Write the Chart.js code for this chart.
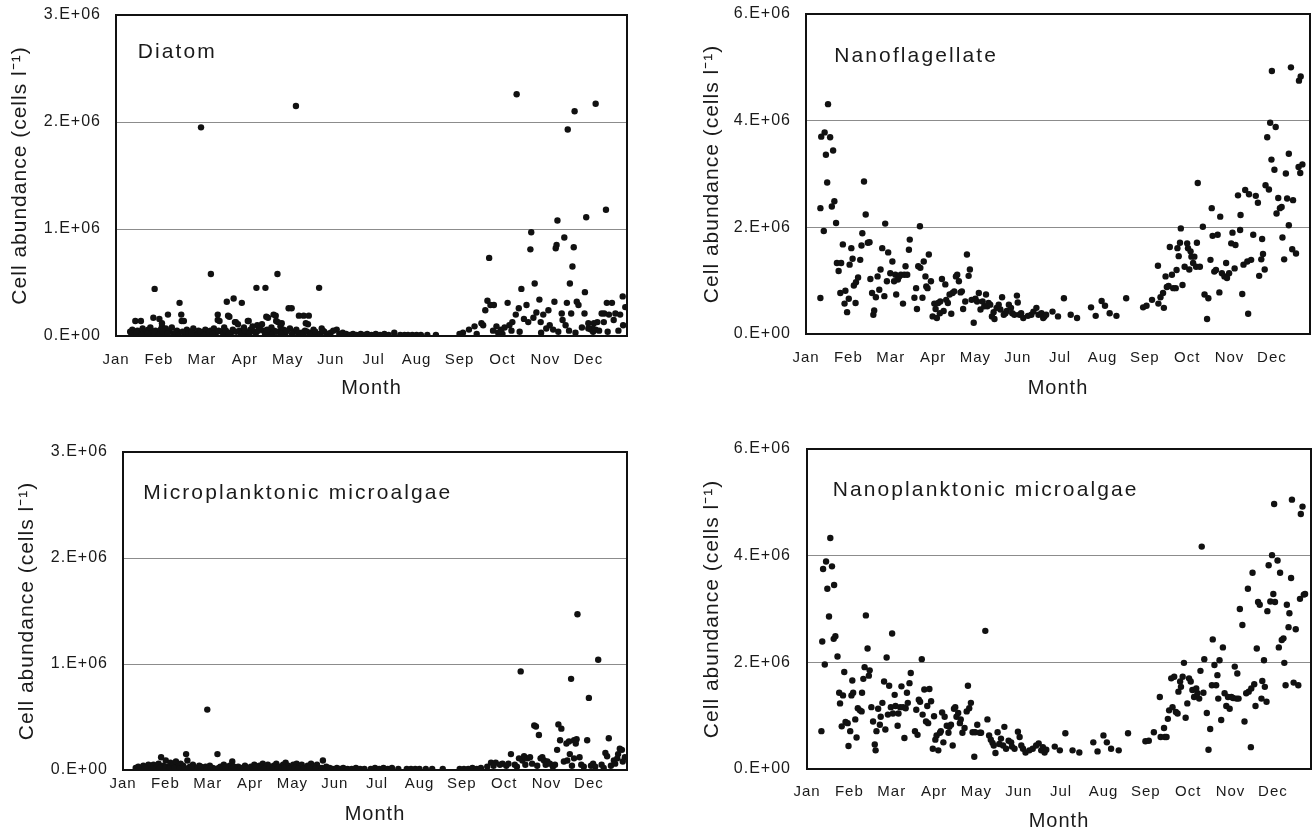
<!DOCTYPE html>
<html>
<head>
<meta charset="utf-8">
<script src="https://cdn.jsdelivr.net/npm/chart.js@4.4.1/dist/chart.umd.min.js"></script>
<style>
  html, body { margin: 0; padding: 0; background: #fff; }
  body { width: 1315px; height: 835px; position: relative; overflow: hidden; }
  canvas { position: absolute; }
</style>
</head>
<body>
<canvas id="p1" width="640" height="420" style="left:0px;top:0px"></canvas>
<canvas id="p2" width="625" height="420" style="left:690px;top:0px"></canvas>
<canvas id="p3" width="640" height="405" style="left:0px;top:430px"></canvas>
<canvas id="p4" width="625" height="405" style="left:690px;top:430px"></canvas>
<script>
// ---------- DATA ----------
const monthLabels = ['Jan','Feb','Mar','Apr','May','Jun','Jul','Aug','Sep','Oct','Nov','Dec'];
const yLabels3 = ['0.E+00','1.E+06','2.E+06','3.E+06'];
const yLabels6 = ['0.E+00','2.E+06','4.E+06','6.E+06'];
const panelTitles = ['Diatom','Nanoflagellate','Microplanktonic microalgae','Nanoplanktonic microalgae'];
const yAxisTitle = 'Cell abundance (cells l\u207B\u00B9)';
const xAxisTitle = 'Month';

// points: [month position (0 = start of Jan), cell abundance in 10^6 cells/l]
const diatomPoints = [
 [1.98,1.95],[4.19,2.15],[0.9,0.44],[2.21,0.58],[3.76,0.58],[4.73,0.45],[3.27,0.45],[3.48,0.45],
 [2.74,0.35],[2.58,0.32],[2.93,0.31],[1.48,0.31],[1.52,0.2],[1.53,0.14],[1.21,0.2],[0.87,0.17],
 [1.01,0.16],[0.45,0.14],[0.58,0.14],[2.37,0.2],[2.61,0.19],[2.37,0.15],[3.07,0.14],[2.77,0.13],
 [3.5,0.18],[3.67,0.2],[3.73,0.14],[4.02,0.26],[4.09,0.26],[4.26,0.19],[4.37,0.19],[4.49,0.19],
 [4.42,0.12],[3.29,0.1],[3.83,0.09],[1.07,0.09],[1.07,0.12],[1.58,0.14],[2.41,0.14],[2.64,0.18],
 [2.79,0.13],[2.84,0.11],[3.09,0.14],[3.54,0.17],[3.72,0.19],[3.77,0.13],[3.86,0.12],[4.47,0.11],
 [4.79,0.07],[5.14,0.06],
 [0.33,0.04],[0.38,0.06],[0.42,0.03],[0.5,0.05],[0.55,0.02],[0.62,0.07],[0.66,0.04],[0.7,0.03],
 [0.75,0.06],[0.8,0.08],[0.84,0.03],[0.92,0.05],[0.97,0.02],[1.04,0.06],[1.12,0.03],[1.16,0.07],
 [1.25,0.04],[1.3,0.08],[1.35,0.02],[1.42,0.05],[1.6,0.03],[1.65,0.06],[1.72,0.04],[1.8,0.07],
 [1.86,0.02],[1.92,0.05],[2.02,0.03],[2.08,0.06],[2.14,0.02],[2.2,0.05],[2.28,0.07],[2.33,0.03],
 [2.46,0.04],[2.52,0.08],[2.68,0.03],[2.72,0.06],[2.88,0.05],[2.98,0.08],[3.03,0.03],[3.13,0.06],
 [3.18,0.09],[3.22,0.04],[3.35,0.07],[3.4,0.11],[3.44,0.05],[3.58,0.03],[3.62,0.08],[3.68,0.05],
 [3.8,0.04],[3.9,0.06],[3.95,0.03],[4.05,0.07],[4.14,0.04],[4.2,0.06],[4.32,0.03],[4.4,0.05],
 [4.55,0.03],[4.6,0.06],[4.68,0.02],[4.85,0.04],[4.92,0.02],[5.0,0.03],[5.06,0.05],[5.2,0.02],
 [0.36,0.02],[0.47,0.03],[0.6,0.01],[0.73,0.02],[0.89,0.04],[1.0,0.01],[1.09,0.04],[1.2,0.02],
 [1.39,0.03],[1.46,0.01],[1.55,0.04],[1.69,0.02],[1.76,0.03],[1.9,0.01],[1.97,0.04],[2.05,0.01],
 [2.17,0.03],[2.25,0.02],[2.39,0.05],[2.5,0.02],[2.56,0.05],[2.63,0.02],[2.8,0.04],[2.91,0.02],
 [3.0,0.05],[3.1,0.02],[3.26,0.03],[3.31,0.05],[3.47,0.02],[3.52,0.06],[3.65,0.02],[3.74,0.04],
 [3.85,0.02],[3.98,0.05],[4.1,0.02],[4.24,0.03],[4.36,0.02],[4.45,0.04],[4.52,0.01],[4.64,0.04],
 [4.75,0.02],[4.82,0.05],
 [5.28,0.03],[5.36,0.02],[5.45,0.01],[5.52,0.02],[5.6,0.01],[5.7,0.02],[5.78,0.01],[5.85,0.02],
 [5.95,0.01],[6.05,0.02],[6.15,0.01],[6.25,0.02],[6.35,0.01],[6.48,0.03],[6.62,0.01],[6.72,0.01],
 [6.8,0.01],[6.9,0.01],[7.0,0.01],[7.1,0.01],[7.25,0.01],[7.45,0.01],
 [9.33,2.26],[11.17,2.17],[10.68,2.1],[10.52,1.93],[11.41,1.18],[10.95,1.11],[10.28,1.08],[9.67,0.97],
 [10.44,0.92],[10.26,0.85],[10.24,0.82],[9.65,0.81],[10.66,0.83],[10.63,0.65],[8.69,0.73],[10.57,0.49],
 [9.75,0.49],[9.44,0.44],[10.92,0.41],[8.65,0.33],[8.6,0.24],[8.72,0.29],[8.8,0.29],[9.12,0.31],
 [9.38,0.26],[9.56,0.29],[9.86,0.34],[10.07,0.24],[10.21,0.32],[10.5,0.31],[10.73,0.32],[10.77,0.29],
 [11.43,0.31],[9.31,0.2],[9.79,0.22],[9.95,0.2],[10.38,0.21],[10.6,0.21],[10.91,0.21],[11.31,0.21],
 [11.37,0.21],[11.48,0.2],[10.4,0.15],[10.47,0.1],[9.5,0.16],[9.6,0.13],[9.72,0.17],[9.89,0.13],
 [10.1,0.1],[10.02,0.07],[10.18,0.06],[11.0,0.12],[11.21,0.13],[10.85,0.08],[11.06,0.06],[11.11,0.04],
 [9.23,0.13],[9.16,0.1],[9.05,0.08],[8.97,0.06],[8.86,0.09],[8.78,0.05],[8.55,0.1],[8.51,0.12],
 [8.35,0.09],[8.22,0.06],[8.08,0.03],[8.0,0.02],[9.4,0.04],[9.21,0.05],
 [11.8,0.37],[11.86,0.27],[11.55,0.31],[11.74,0.2],[11.63,0.21],[11.59,0.15],[11.81,0.1],[11.36,0.13],
 [11.13,0.12],[11.17,0.06],[11.1,0.07],[11.0,0.07],[9.9,0.03],[10.3,0.04],[10.55,0.05],[10.7,0.03],
 [11.25,0.05],[11.45,0.04],[11.7,0.05],[9.0,0.02],[8.4,0.02],[8.9,0.03]
];

const nanoflagellatePoints = [
 [0.34,0.675],[0.34,2.36],[0.36,3.7],[0.42,1.93],[0.44,3.78],[0.47,3.36],[0.5,2.84],[0.52,4.31],
 [0.57,3.69],[0.61,2.39],[0.64,3.44],[0.67,2.49],[0.71,2.08],[0.73,1.33],[0.77,1.18],[0.83,1.33],
 [0.81,0.77],[0.87,1.68],[0.91,0.57],[0.93,0.81],[0.97,0.41],[1.01,0.66],[1.03,1.3],[1.07,1.61],
 [1.1,1.41],[1.13,0.91],[1.17,0.58],[1.18,0.97],[1.23,1.06],[1.28,1.39],[1.31,1.66],[1.33,1.89],
 [1.37,2.86],[1.41,2.24],[1.46,1.71],[1.5,1.72],[1.52,1.03],[1.56,0.77],[1.59,0.36],[1.61,0.44],
 [1.65,0.69],[1.69,1.08],[1.73,0.83],[1.76,1.21],[1.8,1.61],[1.85,0.71],[1.87,2.07],[1.91,0.99],
 [1.94,1.53],[1.99,1.14],[2.04,1.36],[2.08,0.99],[2.11,1.11],[2.13,0.74],[2.17,1.02],[2.2,1.08],
 [2.24,1.11],[2.29,0.57],[2.32,1.11],[2.35,1.27],[2.39,1.11],[2.43,1.58],[2.45,1.77],[2.56,0.68],
 [2.6,0.86],[2.62,0.47],[2.65,1.27],[2.69,2.02],[2.7,1.24],[2.75,0.68],[2.78,1.36],[2.82,1.08],
 [2.84,0.89],[2.87,0.86],[2.9,1.49],[2.95,0.99],[2.99,0.33],[3.03,0.57],[3.06,0.47],[3.09,0.3],
 [3.12,0.58],[3.16,0.39],[3.17,0.61],[3.21,1.03],[3.25,0.43],[3.29,0.93],[3.31,0.64],[3.35,0.58],
 [3.39,0.74],[3.43,0.38],[3.46,0.77],[3.5,0.8],[3.54,1.08],[3.57,1.11],[3.61,0.99],[3.65,0.78],
 [3.68,0.8],[3.71,0.47],[3.76,0.61],[3.8,1.49],[3.84,1.09],[3.87,1.21],[3.91,0.64],[3.96,0.21],
 [4.0,0.66],[4.04,0.61],[4.08,0.77],[4.12,0.46],[4.17,0.61],[4.21,0.52],[4.25,0.74],[4.28,0.52],
 [4.31,0.58],[4.35,0.55],[4.39,0.33],[4.43,0.41],[4.45,0.28],[4.5,0.49],[4.55,0.55],[4.59,0.46],
 [4.63,0.69],[4.67,0.36],[4.71,0.39],[4.74,0.43],
 [4.79,0.55],[4.84,0.49],[4.87,0.39],[4.92,0.36],[4.98,0.72],[5.0,0.59],[5.04,0.36],[5.08,0.39],
 [5.13,0.3],[5.24,0.34],[5.32,0.36],[5.37,0.42],[5.44,0.49],[5.49,0.36],[5.56,0.39],[5.6,0.3],
 [5.63,0.33],[5.67,0.36],[5.82,0.42],[5.95,0.33],[6.09,0.67],[6.25,0.36],[6.4,0.3],[6.73,0.5],
 [6.84,0.34],[6.98,0.62],[7.06,0.53],[7.17,0.39],[7.33,0.34],[7.56,0.67],[7.96,0.5],[8.04,0.53],
 [8.17,0.64],[8.32,0.57],[8.37,0.69],[8.43,0.77],[8.45,0.49],[8.31,1.28],[8.49,1.08],[8.52,0.88],
 [8.56,0.9],[8.59,1.63],[8.64,1.11],[8.67,0.86],[8.73,0.86],[8.75,1.2],[8.77,1.61],[8.8,1.46],
 [8.83,1.71],[8.85,1.98],[8.89,0.92],[8.94,1.26],[9.0,1.7],[9.02,1.61],[9.05,1.21],[9.08,1.55],
 [9.1,1.45],[9.14,1.33],[9.17,1.45],[9.21,1.26],[9.25,2.83],[9.3,1.26],[9.23,1.71],[9.37,2.01],
 [9.41,0.74],[9.47,0.28],[9.5,0.67],[9.55,1.39],[9.58,2.36],[9.6,1.84],[9.64,1.17],[9.72,1.86],
 [9.68,1.2],[9.76,0.78],[9.78,2.2],[9.82,1.14],[9.88,1.08],[9.92,1.33],[9.94,1.05],[9.99,1.14],
 [10.04,1.7],[10.07,1.9],[10.12,1.23],[10.14,1.67],[10.2,2.6],[10.25,1.95],[10.26,2.23],[10.3,0.75],
 [10.33,1.3],[10.37,2.7],[10.44,0.38],[10.42,1.36],[10.46,2.62],[10.51,1.39],[10.56,1.86],[10.62,2.59],
 [10.67,2.46],[10.7,1.09],[10.75,1.4],[10.77,1.78],[10.79,1.5],[10.83,1.21],[10.85,2.79],[10.89,3.69],
 [10.93,2.71],[10.96,3.96],[10.99,3.27],[11.0,4.93],[11.06,3.08],[11.09,3.88],[11.11,2.26],[11.15,2.55],
 [11.19,2.36],[11.23,2.38],[11.25,1.81],[11.29,1.4],[11.33,3.01],[11.36,2.54],[11.4,2.04],[11.4,3.38],
 [11.45,5.0],[11.48,1.59],[11.5,2.51],[11.57,1.51],[11.63,3.13],[11.64,4.75],[11.67,3.02],[11.68,4.83],
 [11.72,3.18]
];

const microPoints = [
 [1.99,0.57],[0.9,0.12],[1.01,0.09],[1.49,0.15],[1.52,0.09],[2.23,0.15],[2.58,0.08],[4.72,0.09],
 [0.3,0.02],[0.36,0.03],[0.42,0.01],[0.48,0.04],[0.55,0.02],[0.6,0.05],[0.66,0.03],[0.72,0.05],
 [0.78,0.02],[0.84,0.06],[0.95,0.04],[1.06,0.03],[1.12,0.07],[1.18,0.05],[1.25,0.08],[1.3,0.03],
 [1.36,0.06],[1.42,0.04],[1.58,0.03],[1.65,0.05],[1.72,0.02],[1.8,0.04],[1.88,0.02],[1.95,0.03],
 [2.05,0.04],[2.12,0.02],[2.3,0.03],[2.38,0.05],[2.45,0.02],[2.52,0.04],[2.65,0.02],[2.72,0.03],
 [2.8,0.02],[2.88,0.04],[2.95,0.02],[3.02,0.03],[3.1,0.05],[3.16,0.02],[3.22,0.04],[3.3,0.06],
 [3.36,0.03],[3.42,0.05],[3.5,0.02],[3.56,0.04],[3.62,0.06],[3.7,0.03],[3.78,0.05],[3.84,0.07],
 [3.9,0.04],[3.96,0.02],[4.02,0.05],[4.1,0.06],[4.16,0.03],[4.22,0.05],[4.3,0.02],[4.36,0.04],
 [4.44,0.06],[4.5,0.03],[4.58,0.05],[4.64,0.02],[4.8,0.03],[4.88,0.02],[4.95,0.01],[5.05,0.02],
 [0.39,0.01],[0.52,0.02],[0.69,0.01],[0.87,0.02],[1.0,0.02],[1.09,0.01],[1.21,0.02],[1.33,0.01],
 [1.45,0.02],[1.54,0.01],[1.62,0.02],[1.76,0.01],[1.84,0.03],[1.98,0.01],[2.08,0.02],[2.18,0.01],
 [2.26,0.02],[2.34,0.01],[2.42,0.03],[2.56,0.01],[2.62,0.03],[2.76,0.01],[2.84,0.02],[2.92,0.01],
 [3.06,0.01],[3.13,0.03],[3.26,0.02],[3.33,0.01],[3.46,0.02],[3.53,0.01],[3.66,0.02],[3.74,0.01],
 [3.81,0.02],[3.93,0.01],[4.06,0.02],[4.13,0.01],[4.26,0.01],[4.4,0.02],[4.54,0.01],[4.7,0.02],
 [5.12,0.01],[5.2,0.02],[5.3,0.01],[5.4,0.01],[5.5,0.02],[5.6,0.01],[5.7,0.01],[5.85,0.01],
 [5.95,0.02],[6.05,0.01],[6.15,0.02],[6.25,0.01],[6.35,0.02],[6.5,0.01],[6.7,0.01],[6.8,0.01],
 [6.9,0.01],[7.0,0.01],[7.15,0.01],[7.3,0.01],[7.55,0.01],[7.95,0.01],[8.05,0.01],[8.15,0.01],
 [8.25,0.02],[8.35,0.01],[8.45,0.02],
 [10.73,1.47],[11.22,1.04],[9.39,0.93],[10.58,0.86],[11.0,0.68],[9.71,0.42],[9.75,0.41],[9.82,0.33],
 [10.28,0.43],[10.35,0.39],[10.32,0.28],[10.47,0.25],[10.53,0.27],[10.65,0.28],[10.71,0.29],[10.69,0.25],
 [10.96,0.28],[11.47,0.3],[10.25,0.19],[10.55,0.15],[10.78,0.12],[9.16,0.15],[11.39,0.16],[11.43,0.13],
 [11.69,0.15],[11.78,0.19],[11.73,0.2],[11.67,0.11],[11.59,0.09],[10.41,0.08],[10.49,0.09],[10.65,0.11],
 [9.35,0.11],[9.43,0.09],[9.47,0.13],[9.55,0.11],[9.61,0.12],[9.86,0.11],[9.9,0.12],[9.94,0.09],
 [10.02,0.08],[8.69,0.07],[8.8,0.07],[8.96,0.06],[8.6,0.03],[8.75,0.04],[8.9,0.05],[9.05,0.04],
 [9.1,0.06],[9.25,0.05],[9.3,0.03],[9.5,0.05],[9.66,0.06],[9.78,0.04],[9.98,0.05],[10.08,0.06],
 [10.15,0.03],[10.2,0.05],[10.6,0.04],[10.82,0.05],[10.88,0.03],[11.05,0.04],[11.1,0.06],[11.15,0.03],
 [11.3,0.05],[11.35,0.02],[11.52,0.04],[11.62,0.06],[11.8,0.08],[11.85,0.12]
];

const nanoPoints = [
 [0.34,0.71],[0.36,2.39],[0.38,3.75],[0.42,1.96],[0.45,3.89],[0.48,3.38],[0.52,2.86],[0.55,4.33],
 [0.59,3.8],[0.63,2.44],[0.64,3.45],[0.67,2.49],[0.72,2.11],[0.76,1.43],[0.78,1.23],[0.82,0.8],
 [0.85,1.38],[0.88,1.82],[0.91,0.88],[0.96,0.86],[0.98,0.43],[1.02,0.71],[1.05,1.38],[1.07,1.66],
 [1.09,1.43],[1.14,0.93],[1.17,0.59],[1.2,1.14],[1.25,1.1],[1.29,1.08],[1.3,1.43],[1.33,1.69],
 [1.36,1.91],[1.39,2.88],[1.43,2.26],[1.46,1.75],[1.48,1.85],[1.52,1.16],[1.56,0.89],[1.6,0.46],
 [1.62,0.35],[1.64,0.71],[1.68,1.13],[1.72,0.83],[1.74,0.98],[1.78,1.24],[1.82,1.64],[1.85,0.74],
 [1.88,2.09],[1.91,1.02],[1.94,1.56],[1.98,1.16],[2.01,2.54],[2.03,1.04],[2.07,1.39],[2.09,1.18],
 [2.14,0.81],[2.16,1.04],[2.2,1.16],[2.23,1.55],[2.27,1.16],[2.3,0.58],[2.33,1.14],[2.36,1.43],
 [2.38,1.24],[2.42,1.61],[2.45,1.8],[2.55,0.71],[2.58,1.11],[2.61,0.64],[2.64,1.3],[2.67,1.26],
 [2.71,2.06],[2.73,1.02],[2.77,1.49],[2.81,0.89],[2.84,1.18],[2.86,0.86],[2.89,1.5],[2.93,1.27],
 [2.97,0.38],[3.0,0.99],[3.03,0.55],[3.06,0.63],[3.1,0.35],[3.14,0.68],[3.16,0.71],[3.19,1.06],
 [3.22,0.5],[3.25,0.98],[3.3,0.81],[3.34,0.68],[3.36,0.79],[3.4,0.83],[3.44,0.44],[3.47,1.13],
 [3.5,1.16],[3.53,0.98],[3.57,1.05],[3.61,0.86],[3.63,0.93],[3.67,0.68],[3.72,0.77],[3.77,1.08],
 [3.8,1.56],[3.83,1.14],[3.87,1.24],[3.91,0.69],[3.95,0.23],[3.97,0.69],[4.02,0.83],[4.08,0.68],
 [4.11,0.68],[4.21,2.59],[4.26,0.93],[4.3,0.63],[4.34,0.55],[4.38,0.49],[4.41,0.44],[4.45,0.3],
 [4.5,0.69],[4.54,0.47],[4.58,0.57],[4.66,0.79],[4.63,0.44],[4.7,0.38],[4.76,0.53],[4.82,0.5],
 [4.84,0.42],[4.9,0.38],[4.98,0.7],[5.02,0.6],[5.06,0.44],[5.1,0.38],[5.16,0.31],[5.25,0.35],
 [5.33,0.38],[5.41,0.44],[5.47,0.48],[5.53,0.35],[5.57,0.41],[5.61,0.31],[5.65,0.36],[5.85,0.42],
 [5.97,0.35],[6.1,0.67],[6.27,0.35],[6.43,0.31],[6.76,0.5],[6.86,0.33],[7.0,0.63],[7.08,0.5],
 [7.18,0.38],[7.36,0.35],[7.58,0.67],[7.99,0.52],[8.07,0.53],[8.19,0.69],[8.33,1.35],[8.35,0.6],
 [8.43,0.77],[8.45,0.6],[8.49,0.6],[8.52,0.94],[8.55,1.1],[8.6,1.7],[8.63,1.16],[8.67,1.73],
 [8.71,1.07],[8.75,1.04],[8.77,1.45],[8.81,1.64],[8.83,1.54],[8.87,1.73],[8.9,1.99],[8.94,0.96],
 [8.98,1.23],[9.02,1.7],[9.06,1.64],[9.1,1.48],[9.14,1.35],[9.19,1.51],[9.22,1.42],[9.26,1.32],
 [9.29,1.84],[9.32,4.17],[9.36,1.43],[9.38,2.06],[9.44,1.05],[9.48,0.36],[9.52,0.75],[9.56,1.57],
 [9.58,2.43],[9.62,1.95],[9.66,1.57],[9.69,1.76],[9.71,1.32],[9.74,2.04],[9.78,0.92],[9.82,2.28],
 [9.86,1.42],[9.9,1.18],[9.94,1.35],[9.98,1.13],[10.02,1.35],[10.06,1.33],[10.1,1.92],[10.14,1.32],
 [10.16,1.79],[10.19,1.32],[10.22,3.0],[10.28,2.7],[10.33,0.89],[10.37,1.42],[10.41,3.38],[10.43,1.45],
 [10.48,0.41],[10.49,1.51],[10.52,3.68],[10.56,1.59],[10.59,1.18],[10.62,2.26],[10.65,3.13],[10.69,3.08],
 [10.73,1.32],[10.75,1.65],[10.79,2.04],[10.81,1.54],[10.85,1.26],[10.87,2.96],[10.9,3.82],[10.94,3.14],
 [10.98,4.01],[11.01,3.28],[11.03,4.97],[11.05,3.13],[11.11,3.91],[11.14,2.28],[11.17,3.68],[11.21,2.42],
 [11.25,2.45],[11.27,1.99],[11.3,1.57],[11.33,3.08],[11.37,2.66],[11.39,2.92],[11.43,3.58],[11.45,5.05],
 [11.49,1.62],[11.54,2.62],[11.6,1.57],[11.64,3.19],[11.66,4.78],[11.7,4.92],[11.73,3.27],[11.76,3.28]
];

// ---------- CHARTS ----------
const FONT = "'Liberation Sans', Arial, Helvetica, sans-serif";
const TEXT = '#1a1a1a';
const X_MAX = 11.9;

const panels = [
  {id:'p1', pts:diatomPoints, yMax:3e6, step:1e6, yl:yLabels3, title:panelTitles[0],
   yw:116, xh:84, pad:{top:15,right:13,bottom:0,left:0}, xtp:15, xtb:20, ytp:8, ypad:15, lx:21.7, ly:43.3},
  {id:'p2', pts:nanoflagellatePoints, yMax:6e6, step:2e6, yl:yLabels6, title:panelTitles[1],
   yw:116, xh:86, pad:{top:14,right:5,bottom:0,left:0}, xtp:15, xtb:20, ytp:9.5, ypad:15, lx:28.3, ly:47.7},
  {id:'p3', pts:microPoints, yMax:3e6, step:1e6, yl:yLabels3, title:panelTitles[2],
   yw:123, xh:65, pad:{top:22,right:13,bottom:0,left:0}, xtp:5, xtb:9, ytp:15, ypad:15, lx:20.3, ly:47},
  {id:'p4', pts:nanoPoints, yMax:6e6, step:2e6, yl:yLabels6, title:panelTitles[3],
   yw:117, xh:66, pad:{top:19,right:4,bottom:0,left:0}, xtp:14, xtb:2, ytp:10, ypad:16, lx:25.7, ly:46.7}
];

const spacingPlugin = {
  id: 'spacing',
  beforeDraw(chart) { chart.ctx.letterSpacing = '1px'; }
};
const framePlugin = {
  id: 'frame',
  afterDraw(chart, args, opts) {
    const {ctx, chartArea: a} = chart;
    ctx.save();
    ctx.strokeStyle = '#111';
    ctx.lineWidth = 2;
    ctx.strokeRect(a.left, a.top, a.right - a.left, a.bottom - a.top);
    ctx.letterSpacing = '2.1px';
    ctx.fillStyle = TEXT;
    ctx.font = '21px ' + FONT;
    ctx.textAlign = 'left';
    ctx.textBaseline = 'alphabetic';
    ctx.fillText(opts.text, a.left + opts.dx, a.top + opts.dy);
    ctx.restore();
  }
};

panels.forEach(p => {
  const data = p.pts.map(d => ({x: d[0], y: d[1] * 1e6}));
  new Chart(document.getElementById(p.id), {
    type: 'scatter',
    data: { datasets: [{ data, backgroundColor: '#111', borderWidth: 0, pointRadius: 3.2, pointHoverRadius: 3.2 }] },
    plugins: [spacingPlugin, framePlugin],
    options: {
      responsive: false, animation: false, events: [],
      layout: { padding: p.pad },
      plugins: { legend: {display: false}, tooltip: {enabled: false},
                 frame: {text: p.title, dx: p.lx, dy: p.ly} },
      scales: {
        x: {
          type: 'linear', min: 0, max: X_MAX,
          border: {display: false},
          grid: {display: false, drawTicks: false},
          ticks: { stepSize: 1, autoSkip: false, includeBounds: false, maxRotation: 0, padding: p.xtp,
                   color: TEXT, font: {family: FONT, size: 15},
                   callback: v => (Number.isInteger(v) && v < 12) ? monthLabels[v] : null },
          title: { display: true, text: xAxisTitle, color: TEXT, font: {family: FONT, size: 20},
                   padding: {top: 0, bottom: p.xtb} },
          afterFit: s => { s.height = p.xh; }
        },
        y: {
          type: 'linear', min: 0, max: p.yMax,
          border: {display: false},
          grid: { drawTicks: true, tickLength: p.ypad, tickColor: 'rgba(0,0,0,0)', lineWidth: 1,
                  color: c => (c.tick && c.tick.value > 0 && c.tick.value < p.yMax) ? '#8c8c8c' : 'rgba(0,0,0,0)' },
          ticks: { stepSize: p.step, padding: 0, color: TEXT, font: {family: FONT, size: 16},
                   callback: v => p.yl[Math.round(v / p.step)] },
          title: { display: true, text: yAxisTitle, color: TEXT, font: {family: FONT, size: 21},
                   padding: {top: p.ytp, bottom: 0} },
          afterFit: s => { s.width = p.yw; }
        }
      }
    }
  });
});
</script>
</body>
</html>
